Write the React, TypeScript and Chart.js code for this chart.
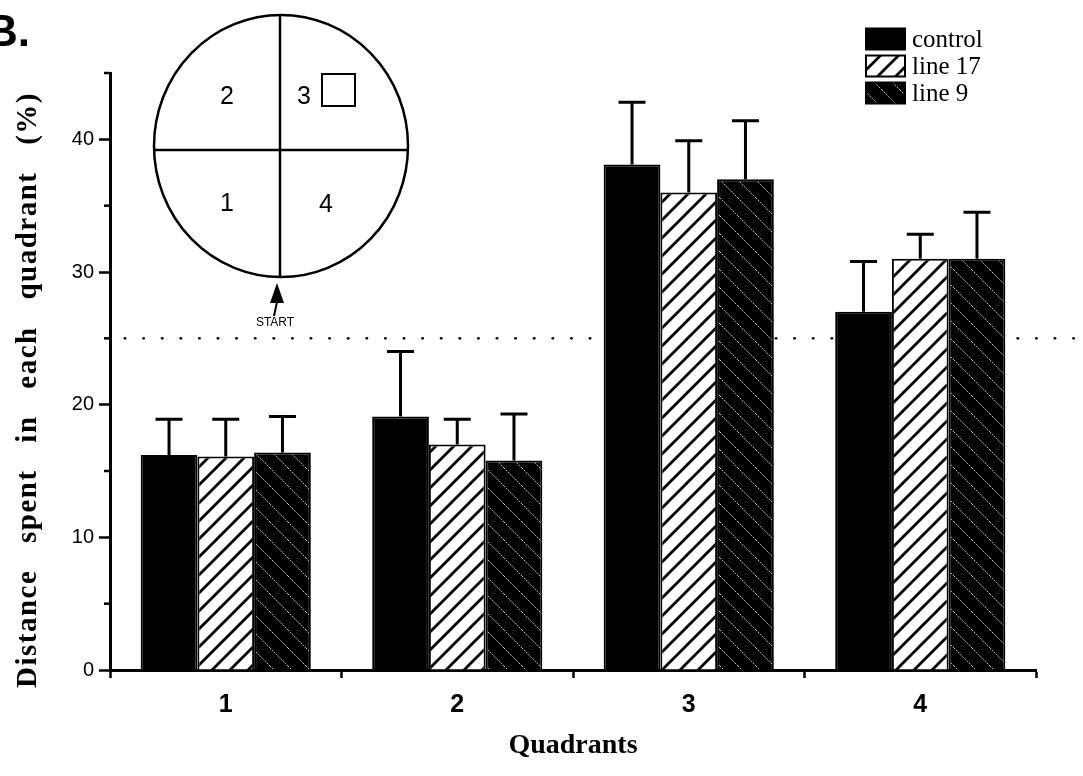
import React, { useEffect, useRef } from "react";
import { Chart, registerables } from "chart.js";

Chart.register(...registerables);

// ---- data ----
const quadrants = ["1", "2", "3", "4"];
const seriesNames = ["control", "line 17", "line 9"];
const controlMean = [16.2, 19.1, 38.1, 27.0];
const controlSem = [2.7, 4.9, 4.7, 3.8];
const line17Mean = [16.1, 17.0, 36.0, 31.0];
const line17Sem = [2.8, 1.9, 3.9, 1.85];
const line9Mean = [16.4, 15.8, 37.0, 31.0];
const line9Sem = [2.7, 3.5, 4.4, 3.5];
const majorTicks = [0, 10, 20, 30, 40];
const minorTicks = [5, 15, 25, 35, 45];
const chanceLevel = 25;
const yMax = 45;
const insetQuadrants = ["1", "2", "3", "4"];

const SERIF = '"Liberation Serif", "Times New Roman", serif';
const SANS = '"Liberation Sans", Arial, sans-serif';

function makeStripePattern(kind: "fwd" | "back"): CanvasPattern {
  const p = 18;
  const c = document.createElement("canvas");
  c.width = p;
  c.height = p;
  const g = c.getContext("2d")!;
  if (kind === "fwd") {
    g.fillStyle = "#fff";
    g.fillRect(0, 0, p, p);
    g.strokeStyle = "#000";
    g.lineWidth = 2.8;
    g.beginPath();
    g.moveTo(-2, p + 2);
    g.lineTo(p + 2, -2);
    g.moveTo(-2, 2);
    g.lineTo(2, -2);
    g.moveTo(p - 2, p + 2);
    g.lineTo(p + 2, p - 2);
    g.stroke();
  } else {
    g.fillStyle = "#000";
    g.fillRect(0, 0, p, p);
    g.strokeStyle = "#d8d8d8";
    g.lineWidth = 1;
    g.setLineDash([1.5, 1.2]);
    g.beginPath();
    g.moveTo(-2, -2);
    g.lineTo(p + 2, p + 2);
    g.moveTo(-2, p - 2);
    g.lineTo(2, p + 2);
    g.moveTo(p - 2, -2);
    g.lineTo(p + 2, 2);
    g.stroke();
  }
  return g.createPattern(c, "repeat")!;
}

export default function App() {
  const ref = useRef<HTMLCanvasElement | null>(null);

  useEffect(() => {
    const canvas = ref.current!;
    const fills = ["#000", makeStripePattern("fwd"), makeStripePattern("back")];
    const means = [controlMean, line17Mean, line9Mean];
    const sems = [controlSem, line17Sem, line9Sem];

    const decor = {
      id: "decor",
      beforeDatasetsDraw(chart: any) {
        const ctx = chart.ctx;
        const y = chart.scales.y.getPixelForValue(chanceLevel);
        ctx.save();
        ctx.fillStyle = "#000";
        for (let x = 125; x <= 1076; x += 18.6) {
          ctx.beginPath();
          ctx.arc(x, y, 1.4, 0, Math.PI * 2);
          ctx.fill();
        }
        ctx.restore();
      },
      afterDatasetsDraw(chart: any) {
        const ctx = chart.ctx;
        const ys = chart.scales.y;
        ctx.save();
        ctx.strokeStyle = "#000";
        ctx.lineWidth = 3;
        ctx.lineCap = "butt";
        means.forEach((m, di) => {
          const meta = chart.getDatasetMeta(di);
          meta.data.forEach((bar: any, i: number) => {
            const top = ys.getPixelForValue(m[i] + sems[di][i]);
            ctx.beginPath();
            ctx.moveTo(bar.x, bar.y);
            ctx.lineTo(bar.x, top);
            ctx.moveTo(bar.x - 13.5, top);
            ctx.lineTo(bar.x + 13.5, top);
            ctx.stroke();
          });
        });
        ctx.restore();
      },
      afterDraw(chart: any) {
        const ctx = chart.ctx;
        const ys = chart.scales.y;
        const area = chart.chartArea;
        ctx.save();
        // minor y ticks
        ctx.strokeStyle = "#000";
        ctx.lineWidth = 2.5;
        minorTicks.forEach((v) => {
          const y = ys.getPixelForValue(v);
          ctx.beginPath();
          ctx.moveTo(area.left - 6, y);
          ctx.lineTo(area.left, y);
          ctx.stroke();
        });

        // axis titles
        ctx.fillStyle = "#000";
        ctx.textAlign = "center";
        ctx.textBaseline = "middle";
        ctx.font = `bold 28px ${SERIF}`;
        ctx.fillText("Quadrants", (area.left + area.right) / 2, 746);
        ctx.save();
        ctx.translate(29, 390);
        ctx.rotate(-Math.PI / 2);
        ctx.font = `bold 29px ${SERIF}`;
        (ctx as any).letterSpacing = "1.5px";
        (ctx as any).wordSpacing = "18px";
        ctx.fillText("Distance spent in each quadrant (%)", 0, 0);
        ctx.restore();

        // panel label
        ctx.textAlign = "left";
        ctx.textBaseline = "alphabetic";
        ctx.font = `bold 44px ${SANS}`;
        ctx.fillText("B.", -14, 46);

        // legend
        ctx.font = `25px ${SERIF}`;
        ctx.textBaseline = "middle";
        seriesNames.forEach((name, i) => {
          const cy = 39 + i * 27;
          ctx.fillStyle = fills[i] as any;
          ctx.fillRect(866, cy - 10.5, 39, 21);
          ctx.strokeStyle = "#000";
          ctx.lineWidth = 2;
          ctx.strokeRect(866, cy - 10.5, 39, 21);
          ctx.fillStyle = "#000";
          ctx.fillText(name, 912, cy + 1);
        });

        // inset maze diagram
        const cx = 281, cy = 146;
        ctx.strokeStyle = "#000";
        ctx.lineWidth = 2.5;
        ctx.beginPath();
        ctx.ellipse(cx, cy, 127, 131, 0, 0, Math.PI * 2);
        ctx.stroke();
        ctx.beginPath();
        ctx.moveTo(280, cy - 131);
        ctx.lineTo(280, cy + 131);
        ctx.moveTo(cx - 127, 150);
        ctx.lineTo(cx + 127, 150);
        ctx.stroke();
        ctx.lineWidth = 2;
        ctx.strokeRect(322, 74, 33, 32);
        ctx.font = `25px ${SANS}`;
        ctx.textAlign = "center";
        ctx.fillStyle = "#000";
        const pos = [
          [227, 204],
          [227, 97],
          [304, 97],
          [326, 205],
        ];
        insetQuadrants.forEach((q, i) => ctx.fillText(q, pos[i][0], pos[i][1]));
        // start arrow
        ctx.beginPath();
        ctx.moveTo(277, 283);
        ctx.lineTo(284, 303);
        ctx.lineTo(270, 303);
        ctx.closePath();
        ctx.fill();
        ctx.lineWidth = 2;
        ctx.beginPath();
        ctx.moveTo(277, 302);
        ctx.lineTo(274, 316);
        ctx.stroke();
        ctx.font = `12px ${SANS}`;
        ctx.fillText("START", 275, 323);
        ctx.restore();
      },
    };

    const chart = new Chart(canvas, {
      type: "bar",
      data: {
        labels: quadrants,
        datasets: seriesNames.map((name, i) => ({
          label: name,
          data: means[i],
          backgroundColor: fills[i] as any,
          borderColor: "#000",
          borderWidth: 2,
          borderSkipped: "bottom",
          barPercentage: 1,
          categoryPercentage: 0.735,
        })),
      },
      options: {
        responsive: false,
        animation: false,
        devicePixelRatio: 1,
        layout: { padding: { left: 0, top: 73, right: 47, bottom: 0 } },
        plugins: { legend: { display: false }, tooltip: { enabled: false } },
        scales: {
          x: {
            type: "category",
            afterFit: (s: any) => {
              s.height = 106;
            },
            grid: {
              offset: true,
              drawOnChartArea: false,
              tickLength: 8,
              tickWidth: 2.5,
              tickColor: "#000",
            },
            border: { display: true, color: "#000", width: 3 },
            ticks: {
              color: "#000",
              font: { family: SANS, size: 25, weight: "bold" },
              padding: 12,
            },
          },
          y: {
            min: 0,
            max: yMax,
            afterFit: (s: any) => {
              s.width = 110;
            },
            afterBuildTicks: (s: any) => {
              s.ticks = majorTicks.map((v) => ({ value: v }));
            },
            grid: {
              drawOnChartArea: false,
              tickLength: 11,
              tickWidth: 2.5,
              tickColor: "#000",
            },
            border: { display: true, color: "#000", width: 3 },
            ticks: {
              color: "#000",
              font: { family: SANS, size: 20 },
              padding: 5,
            },
          },
        },
      },
      plugins: [decor],
    });
    return () => chart.destroy();
  }, []);

  return (
    <div style={{ position: "absolute", left: 0, top: 0, width: 1083, height: 776, background: "#fff" }}>
      <canvas ref={ref} width={1083} height={776} />
    </div>
  );
}
